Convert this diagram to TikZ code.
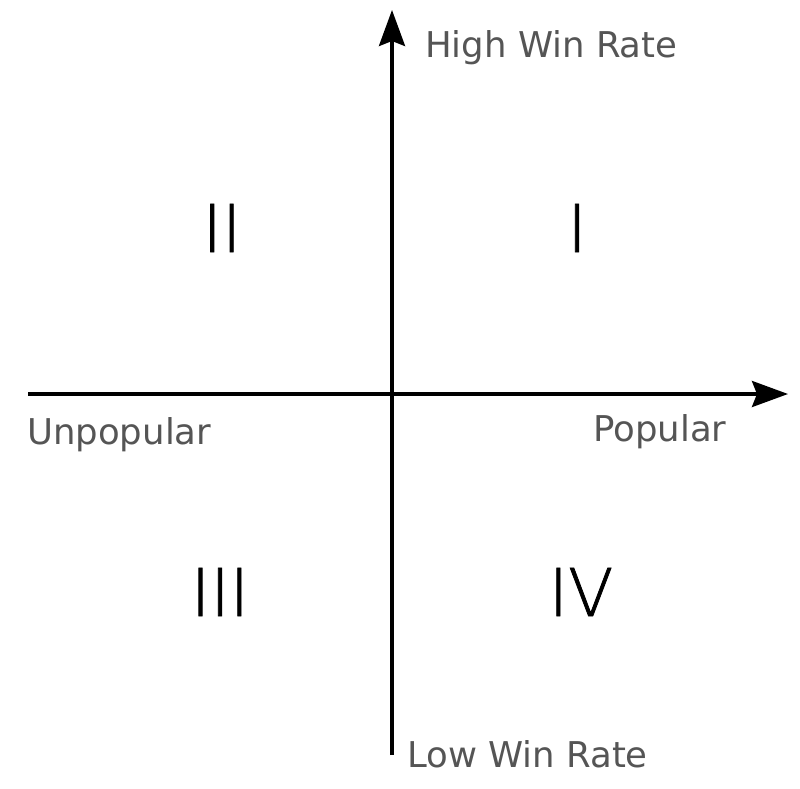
\documentclass[tikz,border=0pt]{standalone}
\usepackage{fontspec}
\setmainfont{DejaVu Sans}
\newfontfamily\thinfont[FakeBold=1.2]{DejaVu Sans ExtraLight}
\usetikzlibrary{arrows.meta}
\definecolor{labelgray}{HTML}{555555}
\begin{document}
\begin{tikzpicture}[x=1pt,y=-1pt,
  axis/.style={line width=3.5pt, draw=black, -{Stealth[length=36pt,width=26pt,inset=5pt]}},
  axislabel/.style={anchor=base west, inner sep=0pt, text=labelgray, font=\fontsize{35.5}{35.5}\selectfont},
  quadlabel/.style={inner sep=0pt, font=\thinfont\fontsize{66}{66}\selectfont}]
\useasboundingbox (0,0) rectangle (800,789);
\coordinate (xs) at (28,394);
\coordinate (xe) at (788,394);
\coordinate (ys) at (392,755);
\coordinate (ye) at (392,10);
\draw[axis] (xs) -- (xe);
\draw[axis] (ys) -- (ye);
\node[axislabel] (high) at (425,58) {High Win Rate};
\node[axislabel] (low) at (407,767) {Low Win Rate};
\node[axislabel] (unpop) at (27,444) {Unpopular};
\node[axislabel] (pop) at (593,441) {Popular};
\node[quadlabel] (q1) at (577,228) {I};
\node[quadlabel] (q2) at (222,228) {II};
\node[quadlabel] (q3) at (220,592) {III};
\node[quadlabel] (q4) at (581,592) {IV};
\end{tikzpicture}
\end{document}
